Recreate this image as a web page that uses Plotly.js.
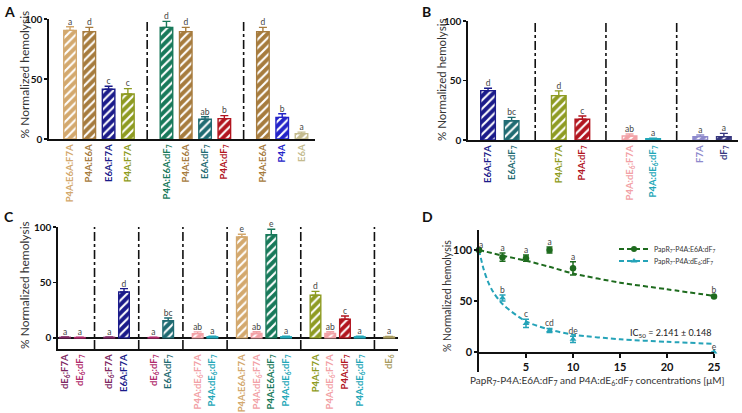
<!DOCTYPE html>
<html><head><meta charset="utf-8">
<script src="https://cdn.plot.ly/plotly-3.0.1.min.js"></script>
<style>html,body{margin:0;padding:0;background:#fff}#chart{width:742px;height:413px}</style>
</head><body><div id="chart"></div>
<script>
// ---------- Panel A ----------
const labelsA = ['P4A:E6A:F7A','P4A:E6A','E6A:F7A','P4A:F7A','P4A:E6A:dF7','P4A:E6A','E6A:dF7','P4A:dF7','P4A:E6A','P4A','E6A'];
const groupsA = [4,4,3];
const valuesA = [90.5,89.5,41.5,37.5,93,89.5,16.5,17,89.5,18,4.5];
const errorsA = [3,3.5,2.5,4.5,5,3.5,2,2.5,3.5,3,1.2];
const lettersA = ['a','d','c','c','d','d','ab','b','d','b','a'];
// ---------- Panel B ----------
const labelsB = ['E6A:F7A','E6A:dF7','P4A:F7A','P4A:dF7','P4A:dE6:F7A','P4A:dE6:dF7','F7A','dF7'];
const groupsB = [2,2,2,2];
const valuesB = [41.5,16.2,37.3,17.4,3.4,1.1,2.8,2.8];
const errorsB = [2,2.8,4,2.8,1.6,0.5,1.4,2.8];
const lettersB = ['d','bc','d','c','ab','a','a','a'];
// ---------- Panel C ----------
const labelsC = ['dE6:F7A','dE6:dF7','dE6:F7A','E6A:F7A','dE6:dF7','E6A:dF7','P4A:dE6:F7A','P4A:dE6:dF7','P4A:E6A:F7A','P4A:dE6:F7A','P4A:E6A:dF7','P4A:dE6:dF7','P4A:F7A','P4A:dE6:F7A','P4A:dF7','P4A:dE6:dF7','dE6'];
const groupsC = [2,2,2,2,4,4,1];
const valuesC = [0.5,0.3,0.5,41.4,0.3,15.5,3.9,1,91,4,93,1,38.4,4,16.8,1,0.8];
const errorsC = [0.3,0.3,0.3,3,0.3,2.5,1.5,0.5,2.4,1.5,5,0.5,3.6,1.5,3,0.5,0.5];
const lettersC = ['a','a','a','d','a','bc','ab','a','e','ab','e','a','d','ab','c','a','a'];
// ---------- Panel D ----------
const concD = [0,2.5,5,7.5,10,25];
const meanD1 = [100,93,92,100,82,54.5];
const errD1 = [0,4,3,3,6.5,0.8];
const meanD2 = [100,53,28,21,12.4,0];
const errD2 = [0,3,4,2,3,0];
const lettersD1 = ['a','a','a','a','a','b'];
const lettersD2 = ['','b','c','cd','de','e'];
const fitX1 = [0,2.5,5,7.5,10,15,20,25];
const fitY1 = [100,94.5,89.5,83.5,77,68,61.5,55];
const fitX2 = [0,0.5,1,1.5,2.5,5,7.5,10,15,20,25];
const fitY2 = [100,81,68,59,47,30,22,17,12.5,10,8];
const nameD1 = 'PapR<sub>7</sub>-P4A:E6A:dF<sub>7</sub>';
const nameD2 = 'PapR<sub>7</sub>-P4A:dE<sub>6</sub>:dF<sub>7</sub>';
const ic50Text = 'IC<sub>50</sub> = 2.141 ± 0.148';

// ---------- styles ----------
const colorOf = {
 'P4A:E6A:F7A':'#D3A86D','P4A:E6A':'#A67B3D','E6A:F7A':'#1B1B8A','P4A:F7A':'#8E9B22',
 'P4A:E6A:dF7':'#18795A','E6A:dF7':'#1F6B72','P4A:dF7':'#B2151F','P4A':'#2323C8','E6A':'#C4BB8E',
 'P4A:dE6:F7A':'#F2A1A6','P4A:dE6:dF7':'#22A6B7','F7A':'#8D89CC','dF7':'#36367E',
 'dE6:F7A':'#7E2762','dE6:dF7':'#B02A6B','dE6':'#A89B5E'};
const greenD = '#1E6B1E', cyanD = '#25A3B8';
const FONT = 'Lato, "Open Sans", sans-serif';
const toHtml = s => s.replace(/dF7/g,'dF<sub>7</sub>').replace(/dE6/g,'dE<sub>6</sub>');

const traces = [];
const shapes = [];

function barPanel(labels, groups, values, errors, letters, xa, ya, barW, yBottom) {
  const pos = [], div = [];
  let p = 0;
  groups.forEach((g, gi) => {
    for (let i = 0; i < g; i++) pos.push(p++);
    if (gi < groups.length - 1) { div.push(p); p++; }
  });
  labels.forEach((lab, i) => {
    const c = colorOf[lab];
    traces.push({type:'bar', x:[pos[i]], y:[values[i]], width:barW, xaxis:xa, yaxis:ya,
      marker:{color:c, line:{color:c, width:1.4},
        pattern:{shape:'/', fgcolor:'#ffffff', bgcolor:c, size:6, solidity:0.35}},
      error_y:{type:'data', symmetric:false, array:[errors[i]], arrayminus:[0], color:c, thickness:1.4, width:4},
      showlegend:false, hoverinfo:'skip'});
  });
  traces.push({type:'scatter', mode:'text', x:pos, y:values.map((v,i)=>v+errors[i]), text:letters,
    textposition:'top center', textfont:{family:FONT, size:8.5, color:'#444'}, cliponaxis:false,
    xaxis:xa, yaxis:ya, showlegend:false, hoverinfo:'skip'});
  div.forEach(d => shapes.push({type:'line', xref:xa, yref:ya, x0:d, x1:d, y0:yBottom, y1:100,
    line:{color:'#111', width:1.6, dash:'dashdot'}}));
  return {tickvals:pos, ticktext:labels.map(l => '<span style="color:'+colorOf[l]+'">'+toHtml(l)+'</span>')};
}

const tA = barPanel(labelsA, groupsA, valuesA, errorsA, lettersA, 'x', 'y', 0.65, 0);
const tB = barPanel(labelsB, groupsB, valuesB, errorsB, lettersB, 'x2', 'y2', 0.62, 0);
const tC = barPanel(labelsC, groupsC, valuesC, errorsC, lettersC, 'x3', 'y3', 0.72, -10);

// Panel D traces
const transparentExceptFirst = (arr, c) => arr.map((_, i) => i === 0 ? c : 'rgba(0,0,0,0)');
traces.push({type:'scatter', mode:'lines+markers', x:fitX1, y:fitY1, xaxis:'x4', yaxis:'y4', name:nameD1,
  line:{color:greenD, width:2, dash:'5px,3px', shape:'spline', smoothing:0.8},
  marker:{symbol:'circle', size:6, color:transparentExceptFirst(fitX1, greenD)}, legend:'legend', cliponaxis:false, hoverinfo:'skip'});
traces.push({type:'scatter', mode:'lines+markers', x:fitX2, y:fitY2, xaxis:'x4', yaxis:'y4', name:nameD2,
  line:{color:cyanD, width:2, dash:'5px,3px', shape:'spline', smoothing:0.8},
  marker:{symbol:'triangle-up', size:6, color:transparentExceptFirst(fitX2, cyanD)}, legend:'legend2', cliponaxis:false, hoverinfo:'skip'});
traces.push({type:'scatter', mode:'markers', x:concD, y:meanD2, xaxis:'x4', yaxis:'y4', showlegend:false,
  marker:{symbol:'triangle-up', size:6, color:cyanD},
  error_y:{type:'data', array:errD2, color:cyanD, thickness:1.5, width:3}, cliponaxis:false, hoverinfo:'skip'});
traces.push({type:'scatter', mode:'markers', x:concD, y:meanD1, xaxis:'x4', yaxis:'y4', showlegend:false,
  marker:{symbol:'circle', size:6.5, color:greenD},
  error_y:{type:'data', array:errD1, color:greenD, thickness:1.5, width:3}, cliponaxis:false, hoverinfo:'skip'});
traces.push({type:'scatter', mode:'text', x:concD, y:meanD1.map((v,i)=>v+errD1[i]), text:lettersD1,
  textposition:concD.map((_,i)=> i===0 ? 'top right' : 'top center'),
  textfont:{family:FONT, size:8.5, color:'#444'}, xaxis:'x4', yaxis:'y4', showlegend:false, cliponaxis:false, hoverinfo:'skip'});
traces.push({type:'scatter', mode:'text', x:concD, y:meanD2.map((v,i)=>v+errD2[i]), text:lettersD2,
  textposition:'top center', textfont:{family:FONT, size:8.5, color:'#444'}, xaxis:'x4', yaxis:'y4', showlegend:false, cliponaxis:false, hoverinfo:'skip'});

const W = 742, H = 413;
const px = v => v / W, py = v => 1 - v / H;
const baseX = {showgrid:false, zeroline:false, showline:true, linecolor:'#111', linewidth:1.6, ticks:'',
  tickangle:-90, tickfont:{family:FONT, size:9.5, weight:'bold'}, fixedrange:true};
const baseY = {showgrid:false, zeroline:false, showline:true, linecolor:'#111', linewidth:1.6, ticks:'outside',
  ticklen:3, tickwidth:1.4, tickcolor:'#111', tickvals:[0,50,100], tickfont:{family:FONT, size:10, weight:'bold', color:'#111'}, fixedrange:true};

const ytitle = (x, y, size) => ({xref:'paper', yref:'paper', x:px(x), y:py(y), text:'% Normalized hemolysis',
  textangle:-90, showarrow:false, font:{family:FONT, size:size, color:'#333'}, xanchor:'center', yanchor:'middle'});
const plabel = (x, y, t) => ({xref:'paper', yref:'paper', x:px(x), y:py(y), text:'<b>'+t+'</b>', showarrow:false,
  font:{family:FONT, size:14, color:'#111'}, xanchor:'left', yanchor:'top'});

const layout = {
  width:W, height:H, margin:{l:0, r:0, t:0, b:0}, paper_bgcolor:'#fff', plot_bgcolor:'rgba(0,0,0,0)',
  barmode:'overlay', showlegend:true, font:{family:FONT},
  xaxis: Object.assign({}, baseX, {domain:[px(49), px(315)], range:[-1.09, 12.7], anchor:'y', tickvals:tA.tickvals, ticktext:tA.ticktext}),
  yaxis: Object.assign({}, baseY, {domain:[py(139), py(19)], range:[0, 100], anchor:'x'}),
  xaxis2: Object.assign({}, baseX, {domain:[px(468), px(738)], range:[-0.85, 10.6], anchor:'y2', tickvals:tB.tickvals, ticktext:tB.ticktext}),
  yaxis2: Object.assign({}, baseY, {domain:[py(140), py(21)], range:[0, 100], anchor:'x2'}),
  xaxis3: Object.assign({}, baseX, {domain:[px(58), px(398)], range:[-0.48, 22.6], anchor:'y3', tickvals:tC.tickvals, ticktext:tC.ticktext}),
  yaxis3: Object.assign({}, baseY, {domain:[py(349), py(227)], range:[-10, 100], anchor:'x3', zeroline:true, zerolinecolor:'#111', zerolinewidth:1.6}),
  xaxis4: {domain:[px(479), px(714)], range:[0, 25], anchor:'free', position:py(352), showgrid:false, zeroline:false,
    showline:true, linecolor:'#111', linewidth:1.6, ticks:'outside', ticklen:4, tickwidth:1.4, tickcolor:'#111',
    tickvals:[5,10,15,20,25], tickfont:{family:FONT, size:11, weight:'bold', color:'#111'}, fixedrange:true},
  yaxis4: Object.assign({}, baseY, {domain:[py(372.4), py(229.6)], range:[-20, 120], anchor:'x4', tickfont:{family:FONT, size:11, weight:'bold', color:'#111'}}),
  legend: {x:px(614), y:py(249), xanchor:'left', yanchor:'middle', font:{family:FONT, size:7, color:'#333'}, bgcolor:'rgba(0,0,0,0)', borderwidth:0, itemwidth:30},
  legend2: {x:px(614), y:py(261), xanchor:'left', yanchor:'middle', font:{family:FONT, size:7, color:'#333'}, bgcolor:'rgba(0,0,0,0)', borderwidth:0, itemwidth:30},
  shapes: shapes,
  annotations: [
    plabel(2, 1, 'A'), plabel(420, 1, 'B'), plabel(2, 206, 'C'), plabel(420, 206, 'D'),
    ytitle(23.5, 75, 12), ytitle(441, 80, 11.5), ytitle(24, 285, 12), ytitle(447, 296, 10.5),
    {xref:'paper', yref:'paper', x:px(597), y:py(380), text:'PapR<sub>7</sub>-P4A:E6A:dF<sub>7</sub> and P4A:dE<sub>6</sub>:dF<sub>7</sub> concentrations [μM]',
      showarrow:false, font:{family:FONT, size:10, color:'#333'}, xanchor:'center', yanchor:'middle'},
    {xref:'x4', yref:'y4', x:25, y:18.6, text:ic50Text, showarrow:false, font:{family:FONT, size:9, color:'#222'}, xanchor:'right', yanchor:'middle'}
  ]
};

Plotly.newPlot('chart', traces, layout, {staticPlot:true, displayModeBar:false});
</script>
</body></html>
